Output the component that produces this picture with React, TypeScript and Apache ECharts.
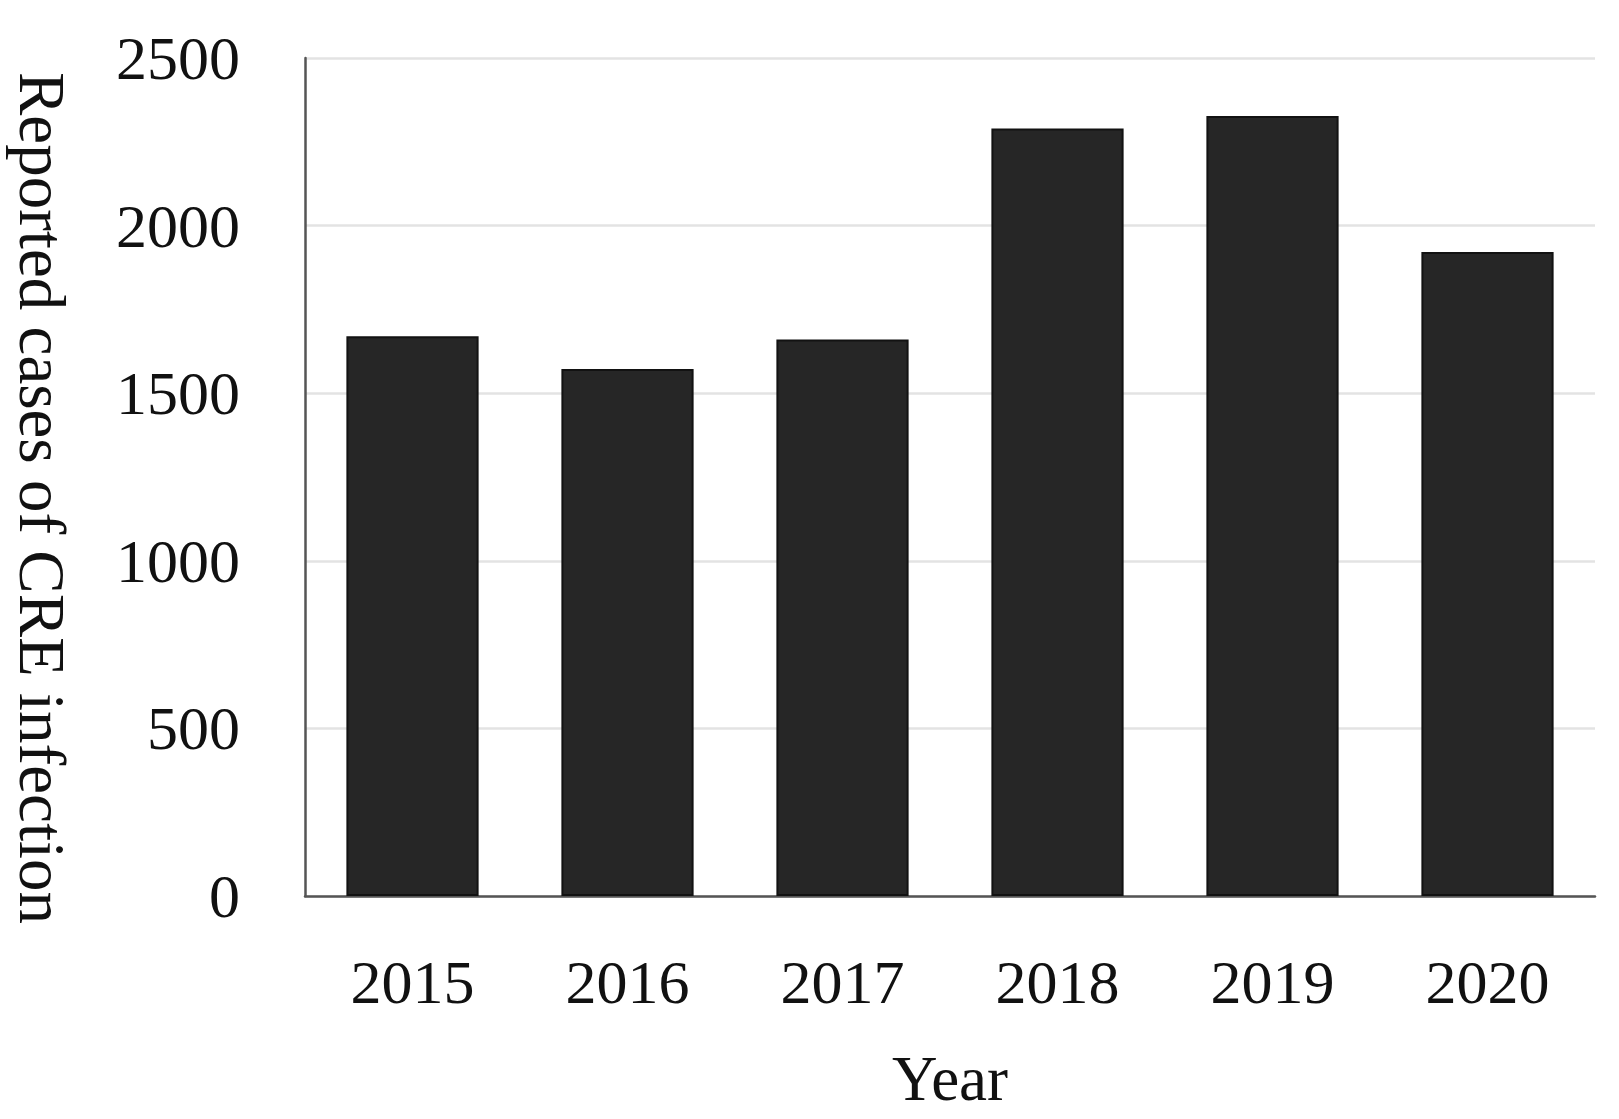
import React, { useEffect, useRef } from "react";
import * as echarts from "echarts";

const years = ["2015", "2016", "2017", "2018", "2019", "2020"];
const cases = [1670, 1572, 1660, 2290, 2327, 1921];
const yTicks = { min: 0, max: 2500, interval: 500 };
const yTitle = "Reported cases of CRE infection";
const xTitle = "Year";

const FONT = "'Liberation Serif', 'Times New Roman', serif";

export default function App() {
  const ref = useRef<HTMLDivElement>(null);
  useEffect(() => {
    if (!ref.current) return;
    const chart = echarts.init(ref.current, undefined, { renderer: "svg" });
    chart.setOption({
      animation: false,
      backgroundColor: "#ffffff",
      grid: { left: 305, right: 24, top: 58, bottom: 223, containLabel: false },
      xAxis: {
        type: "category",
        data: years,
        name: xTitle,
        nameLocation: "middle",
        nameGap: 151,
        nameTextStyle: { fontFamily: FONT, fontSize: 63, color: "#111" },
        axisLine: { show: true, lineStyle: { color: "#555555", width: 2.5 } },
        axisTick: { show: false },
        axisLabel: { margin: 55, fontFamily: FONT, fontSize: 62, color: "#111" },
        splitLine: { show: false },
      },
      yAxis: {
        type: "value",
        min: yTicks.min,
        max: yTicks.max,
        interval: yTicks.interval,
        axisLine: { show: true, lineStyle: { color: "#555555", width: 2.5 } },
        axisTick: { show: false },
        axisLabel: {
          margin: 65,
          fontFamily: FONT,
          fontSize: 62,
          color: "#111",
          formatter: (v: number) => String(v),
        },
        splitLine: { show: true, lineStyle: { color: "#e3e3e3", width: 2.5 } },
      },
      graphic: [
        {
          type: "text",
          x: 42,
          y: 498,
          rotation: -Math.PI / 2,
          style: {
            text: yTitle,
            fontFamily: FONT,
            fontSize: 65,
            fill: "#111",
            align: "center",
            verticalAlign: "middle",
          },
        },
      ],
      series: [
        {
          type: "bar",
          data: cases,
          barWidth: "61.5%",
          itemStyle: { color: "#262626", borderColor: "#121212", borderWidth: 2 },
        },
      ],
    });
    return () => chart.dispose();
  }, []);
  return (
    <div
      ref={ref}
      style={{ position: "fixed", left: 0, top: 0, width: 1619, height: 1119 }}
    />
  );
}
